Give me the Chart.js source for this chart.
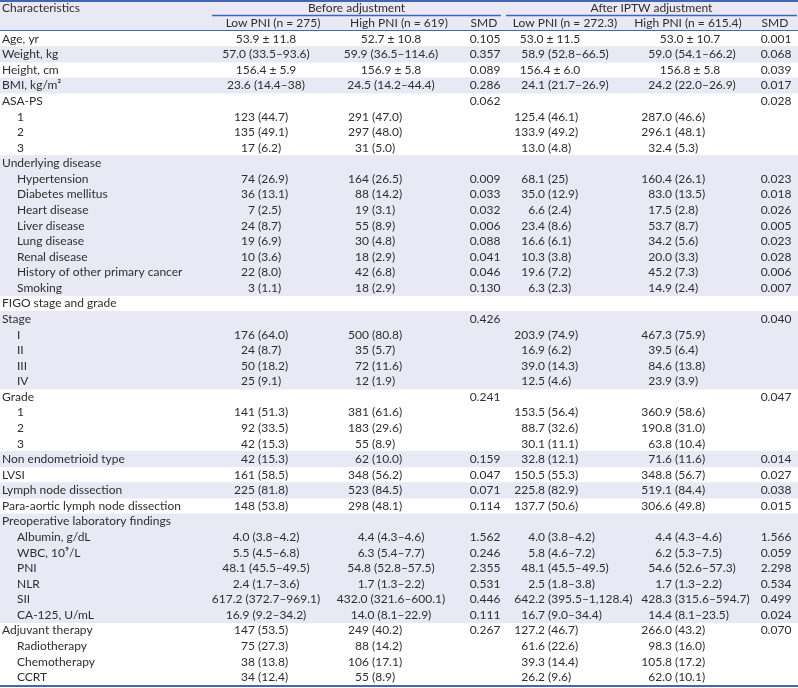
<!DOCTYPE html>
<html>
<head>
<meta charset="utf-8">
<script src="https://cdn.jsdelivr.net/npm/chart.js@4.4.1/dist/chart.umd.min.js"></script>
<style>
  html, body { margin: 0; padding: 0; background: #fff; }
  #wrap { width: 798px; height: 688px; }
</style>
</head>
<body>
<div id="wrap"><canvas id="tbl" width="798" height="688"></canvas></div>
<script>
// rows of the table
const rowLabels = ["Age, yr", "Weight, kg", "Height, cm", "BMI, kg/m\u00B2", "ASA-PS", "1", "2", "3",
  "Underlying disease", "Hypertension", "Diabetes mellitus", "Heart disease", "Liver disease", "Lung disease",
  "Renal disease", "History of other primary cancer", "Smoking", "FIGO stage and grade", "Stage", "I", "II", "III", "IV",
  "Grade", "1", "2", "3", "Non endometrioid type", "LVSI", "Lymph node dissection", "Para-aortic lymph node dissection",
  "Preoperative laboratory findings", "Albumin, g/dL", "WBC, 10\u2079/L", "PNI", "NLR", "SII", "CA-125, U/mL",
  "Adjuvant therapy", "Radiotherapy", "Chemotherapy", "CCRT"];
const subRow = [0,0,0,0,0,1,1,1, 0,1,1,1,1,1,1,1,1, 0,0,1,1,1,1, 0,1,1,1, 0,0,0,0, 0,1,1,1,1,1,1, 0,1,1,1];
const shadedRow = [0,1,0,1,0,0,0,0, 1,1,1,1,1,1,1,1,1, 0,1,1,1,1,1, 0,0,0,0, 1,0,1,0, 1,1,1,1,1,1,1, 0,0,0,0];

const headerGroups = ["Before adjustment", "After IPTW adjustment"];
const columnHeads = ["Low PNI (n = 275)", "High PNI (n = 619)", "SMD", "Low PNI (n = 272.3)", "High PNI (n = 615.4)", "SMD"];

const beforeLow = ["53.9 \u00B1 11.8", "57.0 (33.5\u201393.6)", "156.4 \u00B1 5.9", "23.6 (14.4\u201338)", "", "123 (44.7)", "135 (49.1)", "17 (6.2)",
  "", "74 (26.9)", "36 (13.1)", "7 (2.5)", "24 (8.7)", "19 (6.9)", "10 (3.6)", "22 (8.0)", "3 (1.1)",
  "", "", "176 (64.0)", "24 (8.7)", "50 (18.2)", "25 (9.1)", "", "141 (51.3)", "92 (33.5)", "42 (15.3)",
  "42 (15.3)", "161 (58.5)", "225 (81.8)", "148 (53.8)",
  "", "4.0 (3.8\u20134.2)", "5.5 (4.5\u20136.8)", "48.1 (45.5\u201349.5)", "2.4 (1.7\u20133.6)", "617.2 (372.7\u2013969.1)", "16.9 (9.2\u201334.2)",
  "147 (53.5)", "75 (27.3)", "38 (13.8)", "34 (12.4)"];
const beforeHigh = ["52.7 \u00B1 10.8", "59.9 (36.5\u2013114.6)", "156.9 \u00B1 5.8", "24.5 (14.2\u201344.4)", "", "291 (47.0)", "297 (48.0)", "31 (5.0)",
  "", "164 (26.5)", "88 (14.2)", "19 (3.1)", "55 (8.9)", "30 (4.8)", "18 (2.9)", "42 (6.8)", "18 (2.9)",
  "", "", "500 (80.8)", "35 (5.7)", "72 (11.6)", "12 (1.9)", "", "381 (61.6)", "183 (29.6)", "55 (8.9)",
  "62 (10.0)", "348 (56.2)", "523 (84.5)", "298 (48.1)",
  "", "4.4 (4.3\u20134.6)", "6.3 (5.4\u20137.7)", "54.8 (52.8\u201357.5)", "1.7 (1.3\u20132.2)", "432.0 (321.6\u2013600.1)", "14.0 (8.1\u201322.9)",
  "249 (40.2)", "88 (14.2)", "106 (17.1)", "55 (8.9)"];
const beforeSmd = ["0.105", "0.357", "0.089", "0.286", "0.062", "", "", "",
  "", "0.009", "0.033", "0.032", "0.006", "0.088", "0.041", "0.046", "0.130",
  "", "0.426", "", "", "", "", "0.241", "", "", "",
  "0.159", "0.047", "0.071", "0.114",
  "", "1.562", "0.246", "2.355", "0.531", "0.446", "0.111",
  "0.267", "", "", ""];
const afterLow = ["53.0 \u00B1 11.5", "58.9 (52.8\u201366.5)", "156.4 \u00B1 6.0", "24.1 (21.7\u201326.9)", "", "125.4 (46.1)", "133.9 (49.2)", "13.0 (4.8)",
  "", "68.1 (25)", "35.0 (12.9)", "6.6 (2.4)", "23.4 (8.6)", "16.6 (6.1)", "10.3 (3.8)", "19.6 (7.2)", "6.3 (2.3)",
  "", "", "203.9 (74.9)", "16.9 (6.2)", "39.0 (14.3)", "12.5 (4.6)", "", "153.5 (56.4)", "88.7 (32.6)", "30.1 (11.1)",
  "32.8 (12.1)", "150.5 (55.3)", "225.8 (82.9)", "137.7 (50.6)",
  "", "4.0 (3.8\u20134.2)", "5.8 (4.6\u20137.2)", "48.1 (45.5\u201349.5)", "2.5 (1.8\u20133.8)", "642.2 (395.5\u20131,128.4)", "16.7 (9.0\u201334.4)",
  "127.2 (46.7)", "61.6 (22.6)", "39.3 (14.4)", "26.2 (9.6)"];
const afterHigh = ["53.0 \u00B1 10.7", "59.0 (54.1\u201366.2)", "156.8 \u00B1 5.8", "24.2 (22.0\u201326.9)", "", "287.0 (46.6)", "296.1 (48.1)", "32.4 (5.3)",
  "", "160.4 (26.1)", "83.0 (13.5)", "17.5 (2.8)", "53.7 (8.7)", "34.2 (5.6)", "20.0 (3.3)", "45.2 (7.3)", "14.9 (2.4)",
  "", "", "467.3 (75.9)", "39.5 (6.4)", "84.6 (13.8)", "23.9 (3.9)", "", "360.9 (58.6)", "190.8 (31.0)", "63.8 (10.4)",
  "71.6 (11.6)", "348.8 (56.7)", "519.1 (84.4)", "306.6 (49.8)",
  "", "4.4 (4.3\u20134.6)", "6.2 (5.3\u20137.5)", "54.6 (52.6\u201357.3)", "1.7 (1.3\u20132.2)", "428.3 (315.6\u2013594.7)", "14.4 (8.1\u201323.5)",
  "266.0 (43.2)", "98.3 (16.0)", "105.8 (17.2)", "62.0 (10.1)"];
const afterSmd = ["0.001", "0.068", "0.039", "0.017", "0.028", "", "", "",
  "", "0.023", "0.018", "0.026", "0.005", "0.023", "0.028", "0.006", "0.007",
  "", "0.040", "", "", "", "", "0.047", "", "", "",
  "0.014", "0.027", "0.038", "0.015",
  "", "1.566", "0.059", "2.298", "0.534", "0.499", "0.024",
  "0.070", "", "", ""];

const columns = [beforeLow, beforeHigh, beforeSmd, afterLow, afterHigh, afterSmd];

// layout (x in table units = px)
const TABLE_W = 798;
const HEAD_H = 30;
const colLayout = [
  { head: 273, center: 266, paren: 258, rangeCenter: true },
  { head: 399, center: 391, paren: 372, rangeCenter: true },
  { head: 484, center: 485 },
  { head: 565, center: 550, paren: 548, rangeCenter: false },
  { head: 688, center: 690, paren: 675, rangeCenter: false },
  { head: 775, center: 776 }
];
const groupLayout = [{ from: 212, to: 501 }, { from: 506, to: 797 }];
const FONT = '12px Lato';
const TEXT = '#2e2e2e';
const BLUE = '#4267b2';
const SHADE = '#e9e9f5';

const tablePlugin = {
  id: 'tableText',
  beforeDraw(chart) {
    const c = chart.ctx;
    const x = chart.scales.x;
    c.save();
    c.fillStyle = SHADE;
    c.fillRect(x.getPixelForValue(0), 0, x.getPixelForValue(TABLE_W) - x.getPixelForValue(0), HEAD_H);
    c.restore();
  },
  afterDatasetsDraw(chart) {
    const c = chart.ctx;
    const xs = chart.scales.x, ys = chart.scales.y;
    const px = v => xs.getPixelForValue(v);
    c.save();
    c.font = FONT;
    c.fillStyle = TEXT;
    c.textBaseline = 'middle';

    // header row 1
    c.textAlign = 'left';
    c.fillText('Characteristics', px(2), 8);
    c.textAlign = 'center';
    headerGroups.forEach((g, i) => {
      c.fillText(g, px((groupLayout[i].from + groupLayout[i].to) / 2), 8);
    });
    // header row 2
    columnHeads.forEach((h, i) => c.fillText(h, px(colLayout[i].head), 23));

    // body
    rowLabels.forEach((lab, r) => {
      const y = ys.getPixelForValue(r);
      c.textAlign = 'left';
      c.fillText(lab, px(subRow[r] ? 17 : 2), y);
      columns.forEach((col, k) => {
        const s = col[r];
        if (!s) return;
        const L = colLayout[k];
        const isRange = s.indexOf('\u2013') >= 0;
        const p = s.indexOf('(');
        if (L.paren === undefined || s.indexOf('\u00B1') >= 0 || p < 0 || (isRange && L.rangeCenter)) {
          c.textAlign = 'center';
          c.fillText(s, px(L.center), y);
        } else {
          const pre = c.measureText(s.slice(0, p)).width;
          c.textAlign = 'left';
          c.fillText(s, px(L.paren) - pre, y);
        }
      });
    });

    // rules
    c.strokeStyle = BLUE;
    c.lineWidth = 2;
    c.beginPath(); c.moveTo(px(0), 1); c.lineTo(px(TABLE_W), 1); c.stroke();
    c.lineWidth = 1.5;
    groupLayout.forEach(g => {
      c.beginPath(); c.moveTo(px(g.from), 15.5); c.lineTo(px(g.to), 15.5); c.stroke();
    });
    c.lineWidth = 1;
    c.beginPath(); c.moveTo(px(0), HEAD_H + 0.5); c.lineTo(px(TABLE_W), HEAD_H + 0.5); c.stroke();
    c.lineWidth = 2;
    c.beginPath(); c.moveTo(px(0), 686); c.lineTo(px(TABLE_W), 686); c.stroke();
    c.restore();
  }
};

new Chart(document.getElementById('tbl'), {
  type: 'bar',
  data: {
    labels: rowLabels,
    datasets: [{
      data: shadedRow.map(s => s ? [0, TABLE_W] : null),
      backgroundColor: SHADE,
      borderWidth: 0,
      barPercentage: 1,
      categoryPercentage: 1
    }]
  },
  options: {
    indexAxis: 'y',
    responsive: false,
    animation: false,
    devicePixelRatio: 1,
    layout: { padding: { top: HEAD_H + 1, bottom: 3, left: 0, right: 0 } },
    scales: {
      x: { type: 'linear', min: 0, max: TABLE_W, display: false },
      y: { display: false, offset: true }
    },
    plugins: { legend: { display: false }, tooltip: { enabled: false } }
  },
  plugins: [tablePlugin]
});
</script>
</body>
</html>
